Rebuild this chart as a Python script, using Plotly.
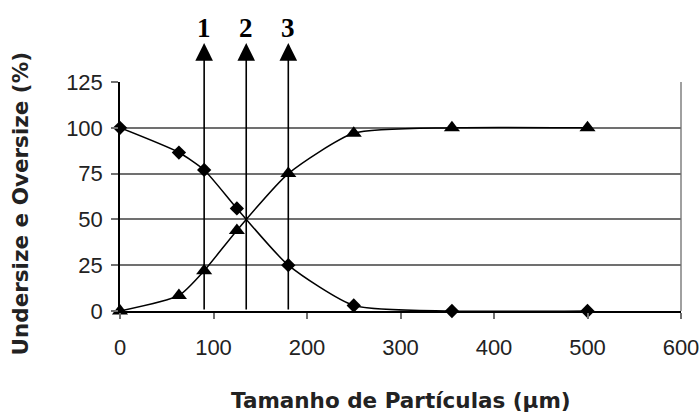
import plotly.graph_objects as go

sizes = [0, 63, 90, 125, 180, 250, 355, 500]
oversize = [100, 86.5, 77, 56, 25, 3, 0, 0]
undersize = [0, 8.5, 22, 44, 75, 97, 100, 100]
cut_x = [90, 135, 180]
cut_labels = ["1", "2", "3"]
x_ticks = [0, 100, 200, 300, 400, 500, 600]
y_ticks = [0, 25, 50, 75, 100, 125]
x_title = "Tamanho de Partículas (µm)"
y_title = "Undersize e Oversize (%)"

fig = go.Figure()

fig.add_trace(go.Scatter(x=sizes, y=oversize, mode="lines+markers",
                         line=dict(color="black", width=1.5, shape="spline", smoothing=0.6),
                         marker=dict(symbol="diamond", size=11, color="black"),
                         cliponaxis=False, showlegend=False))
fig.add_trace(go.Scatter(x=sizes, y=undersize, mode="lines+markers",
                         line=dict(color="black", width=1.5, shape="spline", smoothing=0.6),
                         marker=dict(symbol="triangle-up", size=14, color="black"),
                         cliponaxis=False, showlegend=False))

for cx, lab in zip(cut_x, cut_labels):
    fig.add_annotation(x=cx, y=1.17, xref="x", yref="paper", text="",
                       showarrow=True, axref="pixel", ayref="pixel", ax=0, ay=268,
                       arrowhead=2, arrowsize=2.2, arrowwidth=1.6, arrowcolor="black",
                       standoff=0, startstandoff=0)
    fig.add_annotation(x=cx, y=1.236, xref="x", yref="paper", text=f"<b>{lab}</b>",
                       showarrow=False, yanchor="middle",
                       font=dict(family="Liberation Serif", size=27, color="black"))

fig.add_annotation(x=-0.178, y=0.47, xref="paper", yref="paper", text=f"<b>{y_title}</b>",
                   showarrow=False, textangle=-90, xanchor="center", yanchor="middle",
                   font=dict(family="DejaVu Sans", size=21.5, color="#222"))
fig.add_annotation(x=0.5, y=-0.39, xref="paper", yref="paper", text=f"<b>{x_title}</b>",
                   showarrow=False, xanchor="center", yanchor="middle",
                   font=dict(family="DejaVu Sans", size=21.5, color="#222"))

fig.add_shape(type="line", xref="paper", yref="paper", x0=1, x1=1, y0=0, y1=1,
              line=dict(color="#808080", width=1.5), layer="below")

fig.update_layout(
    width=700, height=413,
    margin=dict(l=120, r=19, t=82, b=102, autoexpand=False),
    paper_bgcolor="white", plot_bgcolor="white",
    font=dict(family="Liberation Sans", size=22, color="#222"),
    xaxis=dict(range=[0, 600], tickvals=x_ticks, showgrid=False, zeroline=False,
               showline=True, linecolor="black", linewidth=1.5,
               ticks="outside", ticklen=6, tickcolor="#707070", tickwidth=1.5,
               ticklabelstandoff=10, automargin=False),
    yaxis=dict(range=[0, 125], tickvals=y_ticks, showgrid=True, gridcolor="#707070",
               gridwidth=1.5, zeroline=False,
               showline=True, linecolor="black", linewidth=1.5,
               ticks="outside", ticklen=7, tickcolor="#707070", tickwidth=1.5,
               ticklabelstandoff=4, automargin=False),
)

fig.write_html("out.html")
